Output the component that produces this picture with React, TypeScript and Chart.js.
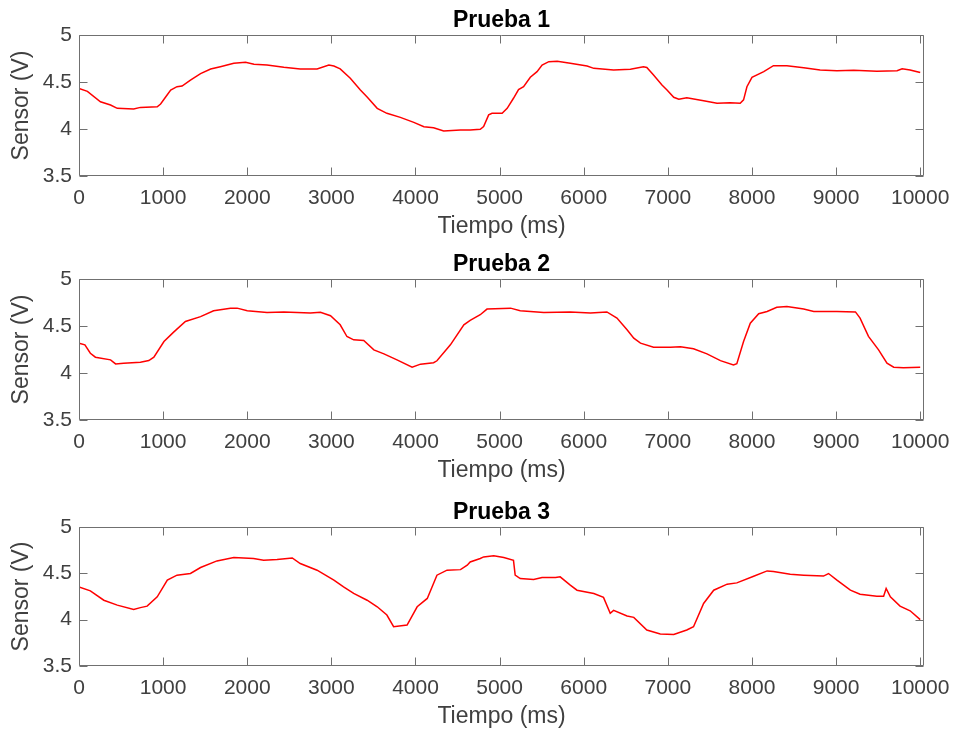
import React, { useEffect, useRef } from "react";
import { Chart, registerables } from "chart.js";

Chart.register(...registerables);

const FONT = "'Liberation Sans', Arial, Helvetica, sans-serif";

const titles = ["Prueba 1", "Prueba 2", "Prueba 3"];
const xLabel = "Tiempo (ms)";
const yLabel = "Sensor (V)";
const xTicks = [0, 1000, 2000, 3000, 4000, 5000, 6000, 7000, 8000, 9000, 10000];
const yTicks = [3.5, 4, 4.5, 5];
const xMin = 0;
const xMax = 10045;
const yMin = 3.5;
const yMax = 5;

// [tiempo (ms), sensor (V)]
const prueba1: [number, number][] = [
  [0, 4.43], [100, 4.40], [255, 4.29], [375, 4.255], [455, 4.22], [650, 4.213], [730, 4.23],
  [930, 4.237], [970, 4.266], [1030, 4.34], [1090, 4.415], [1165, 4.45], [1225, 4.457],
  [1325, 4.52], [1445, 4.59], [1565, 4.638], [1680, 4.663], [1840, 4.70], [1980, 4.71],
  [2080, 4.69], [2235, 4.68], [2435, 4.656], [2630, 4.638], [2830, 4.638], [2970, 4.68],
  [3030, 4.67], [3105, 4.64], [3225, 4.54], [3345, 4.415], [3425, 4.34], [3545, 4.22],
  [3660, 4.167], [3820, 4.124], [3980, 4.07], [4100, 4.025], [4215, 4.014], [4335, 3.98],
  [4535, 3.99], [4650, 3.99], [4770, 3.997], [4810, 4.025], [4870, 4.15], [4910, 4.167],
  [5030, 4.167], [5090, 4.22], [5165, 4.327], [5225, 4.42], [5285, 4.45], [5365, 4.55],
  [5445, 4.61], [5505, 4.68], [5585, 4.716], [5685, 4.72], [5840, 4.70], [6040, 4.67],
  [6120, 4.645], [6355, 4.628], [6555, 4.635], [6710, 4.663], [6750, 4.655], [6830, 4.574],
  [6930, 4.468], [6990, 4.415], [7070, 4.337], [7130, 4.316], [7225, 4.333], [7425, 4.30],
  [7585, 4.273], [7740, 4.28], [7860, 4.273], [7900, 4.31], [7940, 4.45], [8000, 4.55],
  [8140, 4.61], [8255, 4.674], [8415, 4.674], [8615, 4.652], [8810, 4.628], [9010, 4.62],
  [9210, 4.624], [9485, 4.614], [9725, 4.62], [9785, 4.64], [9880, 4.628], [10000, 4.60],
];

const prueba2: [number, number][] = [
  [0, 4.318], [70, 4.30], [135, 4.21], [195, 4.168], [375, 4.14], [435, 4.097], [530, 4.104],
  [730, 4.115], [830, 4.132], [890, 4.168], [1010, 4.335], [1125, 4.435], [1265, 4.548],
  [1445, 4.60], [1600, 4.662], [1800, 4.69], [1880, 4.69], [2000, 4.662], [2235, 4.644],
  [2435, 4.65], [2750, 4.637], [2870, 4.645], [2990, 4.609], [3105, 4.513], [3185, 4.388],
  [3265, 4.353], [3385, 4.345], [3505, 4.246], [3625, 4.204], [3780, 4.14], [3960, 4.062],
  [4060, 4.094], [4215, 4.11], [4255, 4.13], [4415, 4.30], [4575, 4.513], [4650, 4.56],
  [4770, 4.62], [4850, 4.68], [5130, 4.69], [5245, 4.662], [5525, 4.644], [5840, 4.65],
  [6080, 4.637], [6275, 4.65], [6395, 4.584], [6515, 4.46], [6595, 4.37], [6675, 4.318],
  [6830, 4.275], [7030, 4.275], [7150, 4.28], [7305, 4.257], [7465, 4.204], [7625, 4.132],
  [7780, 4.086], [7820, 4.10], [7900, 4.335], [7980, 4.53], [8080, 4.63], [8180, 4.655],
  [8295, 4.70], [8415, 4.707], [8615, 4.68], [8735, 4.655], [9010, 4.655], [9230, 4.65],
  [9285, 4.584], [9385, 4.39], [9505, 4.246], [9605, 4.104], [9685, 4.062], [9800, 4.055],
  [10000, 4.062],
];

const prueba3: [number, number][] = [
  [0, 4.354], [135, 4.311], [295, 4.21], [455, 4.157], [650, 4.11], [730, 4.13], [810, 4.146],
  [930, 4.247], [1050, 4.426], [1165, 4.48], [1325, 4.498], [1445, 4.563], [1640, 4.634],
  [1840, 4.67], [2075, 4.66], [2195, 4.64], [2355, 4.65], [2535, 4.666], [2630, 4.606],
  [2830, 4.534], [3030, 4.426], [3145, 4.354], [3265, 4.283], [3425, 4.21], [3545, 4.139],
  [3660, 4.05], [3740, 3.924], [3900, 3.942], [4020, 4.139], [4140, 4.229], [4255, 4.48],
  [4375, 4.534], [4535, 4.54], [4615, 4.588], [4650, 4.623], [4770, 4.66], [4810, 4.677],
  [4930, 4.69], [5050, 4.67], [5165, 4.64], [5185, 4.48], [5245, 4.444], [5405, 4.433],
  [5505, 4.455], [5665, 4.455], [5720, 4.462], [5840, 4.372], [5920, 4.318], [6120, 4.283],
  [6235, 4.24], [6315, 4.068], [6355, 4.10], [6515, 4.039], [6595, 4.025], [6750, 3.888],
  [6910, 3.845], [7070, 3.84], [7225, 3.888], [7305, 3.924], [7425, 4.175], [7545, 4.318],
  [7705, 4.383], [7820, 4.397], [8020, 4.469], [8180, 4.526], [8255, 4.52], [8455, 4.49],
  [8615, 4.48], [8850, 4.47], [8910, 4.498], [9010, 4.426], [9170, 4.318], [9285, 4.275],
  [9485, 4.254], [9565, 4.254], [9595, 4.337], [9645, 4.247], [9760, 4.146], [9880, 4.096],
  [10000, 4.0],
];

const series = [prueba1, prueba2, prueba3];

const TEXT = "#404040";
const AXIS = "#707070";
const LINE = "#ff0000";

type PanelProps = { title: string; data: [number, number][]; top: number; plotH: number };

function Panel({ title, data, top, plotH }: PanelProps) {
  const ref = useRef<HTMLCanvasElement | null>(null);
  const height = 35 + plotH + 66;

  useEffect(() => {
    if (!ref.current) return;
    const boxPlugin = {
      id: "matlabBox",
      afterDatasetsDraw(chart: any) {
        const ctx = chart.ctx as CanvasRenderingContext2D;
        const { left, right, top: t, bottom } = chart.chartArea;
        const xs = chart.scales.x;
        const ys = chart.scales.y;
        ctx.save();
        ctx.strokeStyle = AXIS;
        ctx.lineWidth = 1;
        ctx.beginPath();
        ctx.rect(left + 0.5, t + 0.5, right - left - 1, bottom - t - 1);
        const TL = 8;
        xTicks.forEach((v) => {
          const px = Math.round(xs.getPixelForValue(v)) + 0.5;
          ctx.moveTo(px, bottom - 0.5);
          ctx.lineTo(px, bottom - 0.5 - TL);
          ctx.moveTo(px, t + 0.5);
          ctx.lineTo(px, t + 0.5 + TL);
        });
        yTicks.forEach((v) => {
          const py = Math.round(ys.getPixelForValue(v)) + 0.5;
          ctx.moveTo(left + 0.5, py);
          ctx.lineTo(left + 0.5 + TL, py);
          ctx.moveTo(right - 0.5, py);
          ctx.lineTo(right - 0.5 - TL, py);
        });
        ctx.stroke();
        ctx.fillStyle = "#000000";
        ctx.font = `bold 23px ${FONT}`;
        ctx.textAlign = "center";
        ctx.textBaseline = "alphabetic";
        ctx.fillText(title, (left + right) / 2, t - 8);
        ctx.restore();
      },
    };

    const chart = new Chart(ref.current, {
      type: "line",
      data: {
        datasets: [
          {
            label: title,
            data: data.map(([x, y]) => ({ x, y })),
            borderColor: LINE,
            borderWidth: 1.5,
            pointRadius: 0,
            fill: false,
            tension: 0,
          },
        ],
      },
      options: {
        responsive: false,
        animation: false,
        events: [],
        layout: { padding: { top: 35, right: 31, left: 0, bottom: 0 } },
        plugins: {
          legend: { display: false },
          tooltip: { enabled: false },
          title: { display: false },
        },
        scales: {
          x: {
            type: "linear",
            min: xMin,
            max: xMax,
            grid: { display: false, drawTicks: false },
            border: { display: false },
            afterBuildTicks: (s: any) => {
              s.ticks = xTicks.map((v) => ({ value: v }));
            },
            afterFit: (s: any) => {
              s.height = 66;
              s.paddingLeft = 0;
              s.paddingRight = 0;
            },
            ticks: {
              padding: 10,
              color: TEXT,
              autoSkip: false,
              maxRotation: 0,
              minRotation: 0,
              font: { family: FONT, size: 21, lineHeight: 1.2 },
              callback: (v: any) => String(v),
            },
            title: {
              display: true,
              text: xLabel,
              color: TEXT,
              font: { family: FONT, size: 23, lineHeight: 1.2 },
              padding: { top: 0, bottom: 2 },
            },
          },
          y: {
            type: "linear",
            min: yMin,
            max: yMax,
            grid: { display: false, drawTicks: false },
            border: { display: false },
            afterBuildTicks: (s: any) => {
              s.ticks = yTicks.map((v) => ({ value: v }));
            },
            afterFit: (s: any) => {
              s.width = 79;
              s.paddingTop = 0;
              s.paddingBottom = 0;
            },
            ticks: {
              padding: 7,
              color: TEXT,
              font: { family: FONT, size: 21, lineHeight: 1.2 },
              callback: (v: any) => String(v),
            },
            title: {
              display: true,
              text: yLabel,
              color: TEXT,
              font: { family: FONT, size: 23, lineHeight: 1.2 },
              padding: { top: 8, bottom: 0 },
            },
          },
        },
      },
      plugins: [boxPlugin],
    } as any);

    return () => chart.destroy();
  }, [title, data, plotH]);

  return (
    <canvas
      ref={ref}
      width={955}
      height={height}
      style={{ position: "absolute", left: 0, top, width: 955, height, display: "block" }}
    />
  );
}

const panelTops = [0, 244, 492];
const panelHeights = [141, 141, 139];

export default function App() {
  return (
    <div
      style={{
        position: "absolute",
        left: 0,
        top: 0,
        width: 955,
        height: 736,
        background: "#ffffff",
        overflow: "hidden",
      }}
    >
      {series.map((d, i) => (
        <Panel key={i} title={titles[i]} data={d} top={panelTops[i]} plotH={panelHeights[i]} />
      ))}
    </div>
  );
}
